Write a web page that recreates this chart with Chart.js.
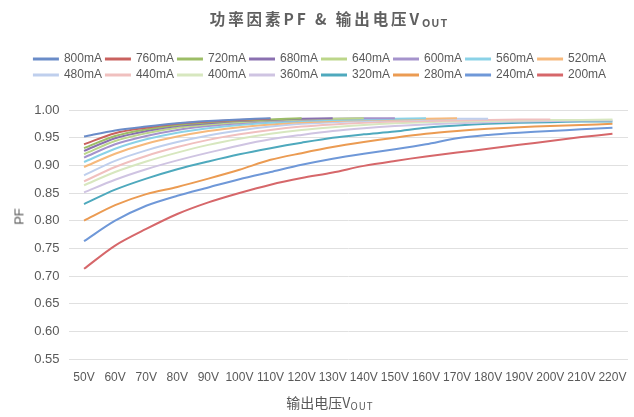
<!DOCTYPE html>
<html>
<head>
<meta charset="utf-8">
<script src="https://cdn.jsdelivr.net/npm/chart.js"></script>
<style>
  html, body { margin: 0; padding: 0; background: #fff; }
  #wrap { position: relative; width: 634px; height: 417px; }
  #title {
    position: absolute; top: 7px; left: 12px; width: 100%; text-align: center;
    font-family: "Noto Sans CJK SC", "Liberation Sans", sans-serif;
    font-size: 15.5px; font-weight: bold; color: #606060; letter-spacing: 2.9px;
  }
  #xtitle {
    position: absolute; top: 392px; left: 13px; width: 100%; text-align: center;
    font-family: "Noto Sans CJK SC", "Liberation Sans", sans-serif;
    font-size: 14px; color: #595959;
  }
  #ytitle {
    position: absolute; left: 9px; top: 209px; width: 20px; text-align: center;
    transform: rotate(-90deg);
    font-family: "Liberation Sans", sans-serif; font-size: 13px; color: #595959;
  }
  sub { font-size: 70%; vertical-align: -2px; letter-spacing: 1px; }
</style>
</head>
<body>
<div id="wrap">
  <canvas id="pfChart" width="634" height="417"></canvas>
  <div id="title">功率因素PF &amp; 输出电压V<sub>OUT</sub></div>
  <div id="xtitle">输出电压V<sub>OUT</sub></div>
  <div id="ytitle">PF</div>
</div>
<script>
// output voltage categories
const voltages = ['50V', '60V', '70V', '80V', '90V', '100V', '110V', '120V', '130V',
  '140V', '150V', '160V', '170V', '180V', '190V', '200V', '210V', '220V'];

const seriesNames = ['800mA', '760mA', '720mA', '680mA', '640mA', '600mA', '560mA', '520mA',
  '480mA', '440mA', '400mA', '360mA', '320mA', '280mA', '240mA', '200mA'];

const seriesColors = ['#6a8cc8', '#c9615e', '#9cbd66', '#8a70b0', '#bcd68a', '#a593cc', '#8ad2e7', '#f6b97c',
  '#bfcfed', '#f0c0bf', '#d7e7bf', '#cfc4e2', '#4ea9bd', '#eb9b52', '#6f98d8', '#d6676a'];

const pf800 = [0.952, 0.963, 0.970, 0.976, 0.980, 0.983, 0.985];
const pf760 = [0.938, 0.958, 0.968, 0.975, 0.979, 0.982, 0.984];
const pf720 = [0.931, 0.953, 0.965, 0.973, 0.978, 0.981, 0.983, 0.985];
const pf680 = [0.926, 0.949, 0.962, 0.971, 0.976, 0.980, 0.982, 0.984, 0.985];
const pf640 = [0.920, 0.944, 0.958, 0.968, 0.974, 0.978, 0.981, 0.983, 0.984, 0.985];
const pf600 = [0.914, 0.938, 0.953, 0.964, 0.971, 0.976, 0.980, 0.982, 0.984, 0.985, 0.985];
const pf560 = [0.906, 0.930, 0.947, 0.959, 0.967, 0.973, 0.977, 0.980, 0.982, 0.983, 0.984, 0.985];
const pf520 = [0.897, 0.921, 0.939, 0.952, 0.962, 0.969, 0.974, 0.978, 0.980, 0.982, 0.983, 0.984, 0.985];
const pf480 = [0.882, 0.908, 0.927, 0.942, 0.954, 0.963, 0.970, 0.975, 0.978, 0.980, 0.982, 0.983, 0.984, 0.984];
const pf440 = [0.871, 0.897, 0.917, 0.933, 0.946, 0.956, 0.964, 0.970, 0.974, 0.977, 0.979, 0.980, 0.981, 0.982, 0.983, 0.983];
const pf400 = [0.864, 0.888, 0.907, 0.923, 0.937, 0.948, 0.957, 0.964, 0.969, 0.973, 0.976, 0.978, 0.979, 0.980, 0.981, 0.982, 0.982, 0.983];
const pf360 = [0.851, 0.874, 0.893, 0.909, 0.923, 0.936, 0.947, 0.955, 0.962, 0.967, 0.971, 0.974, 0.976, 0.978, 0.979, 0.980, 0.981, 0.981];
const pf320 = [0.830, 0.856, 0.876, 0.893, 0.907, 0.920, 0.931, 0.941, 0.950, 0.956, 0.961, 0.968, 0.972, 0.975, 0.977, 0.978, 0.979, 0.979];
const pf280 = [0.800, 0.828, 0.848, 0.861, 0.876, 0.892, 0.910, 0.922, 0.933, 0.942, 0.950, 0.957, 0.962, 0.966, 0.969, 0.971, 0.973, 0.975];
const pf240 = [0.763, 0.800, 0.827, 0.845, 0.860, 0.875, 0.888, 0.901, 0.912, 0.921, 0.929, 0.938, 0.949, 0.955, 0.959, 0.962, 0.965, 0.968];
const pf200 = [0.713, 0.755, 0.785, 0.812, 0.833, 0.850, 0.865, 0.877, 0.887, 0.899, 0.908, 0.916, 0.923, 0.930, 0.937, 0.944, 0.951, 0.957];

const pfSeries = [pf800, pf760, pf720, pf680, pf640, pf600, pf560, pf520,
  pf480, pf440, pf400, pf360, pf320, pf280, pf240, pf200];

const yTicks = [0.55, 0.60, 0.65, 0.70, 0.75, 0.80, 0.85, 0.90, 0.95, 1.00];

const textColor = '#595959';
const gridColor = '#e0e0e0';
const narrowFont = '"Liberation Sans Narrow", "Liberation Sans", sans-serif';

const datasets = pfSeries.map((values, i) => ({
  label: seriesNames[i],
  data: voltages.map((v, j) => (j < values.length ? values[j] : null)),
  borderColor: seriesColors[i],
  backgroundColor: seriesColors[i],
  borderWidth: 2,
  pointRadius: 0,
  tension: 0.3,
  spanGaps: false
}));

// push the plot area down below the legend, and nudge the legend right
const legendGap = {
  id: 'legendGap',
  beforeInit(chart) {
    const fitValue = chart.legend.fit;
    chart.legend.fit = function fit() {
      fitValue.bind(chart.legend)();
      this.height += 19;
    };
  },
  afterLayout(chart) {
    chart.legend.left += 6;
    chart.legend.right += 6;
  }
};

const ctx = document.getElementById('pfChart').getContext('2d');
new Chart(ctx, {
  type: 'line',
  data: {
    labels: voltages,
    datasets: datasets
  },
  plugins: [legendGap],
  options: {
    responsive: false,
    animation: false,
    layout: {
      padding: { top: 49, left: 0, right: 6, bottom: 0 }
    },
    plugins: {
      legend: {
        position: 'top',
        labels: {
          boxWidth: 24,
          boxHeight: 1,
          padding: 4,
          color: textColor,
          font: { family: '"Liberation Sans", sans-serif', size: 12 }
        }
      },
      tooltip: { enabled: false }
    },
    scales: {
      x: {
        type: 'category',
        offset: true,
        grid: { display: false },
        border: { display: false },
        ticks: {
          color: textColor,
          padding: 3,
          maxRotation: 0,
          autoSkip: false,
          font: { family: narrowFont, size: 12 }
        },
        afterFit: function(scale) { scale.height = 58; }
      },
      y: {
        min: 0.55,
        max: 1.00,
        grid: { color: gridColor, drawTicks: false },
        border: { display: false },
        afterBuildTicks: function(scale) {
          scale.ticks = yTicks.map(v => ({ value: v }));
        },
        ticks: {
          color: textColor,
          padding: 9,
          font: { family: narrowFont, size: 13 },
          callback: function(value) { return Number(value).toFixed(2); }
        },
        afterFit: function(scale) { scale.width = 68.5; }
      }
    }
  }
});
</script>
</body>
</html>
